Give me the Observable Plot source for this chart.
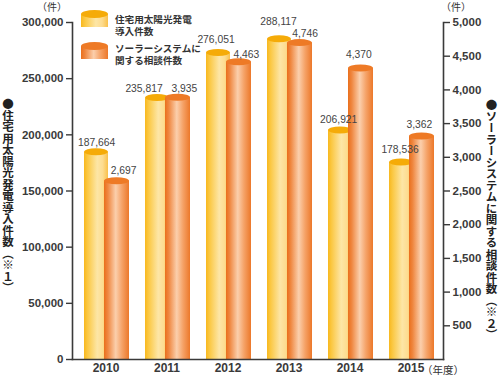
<!DOCTYPE html>
<html><head><meta charset="utf-8">
<script src="https://cdn.jsdelivr.net/npm/d3@7"></script>
<script src="https://cdn.jsdelivr.net/npm/@observablehq/plot@0.6"></script>
<style>
body{margin:0;background:#fff;}
#wrap{position:relative;width:500px;height:380px;font-family:"Noto Sans CJK JP","Liberation Sans",sans-serif;color:#333;}
#wrap > svg{position:absolute;left:0;top:0;}
.vt{position:absolute;writing-mode:vertical-rl;font-weight:bold;font-size:11.5px;line-height:11.5px;color:#222;font-family:"Noto Sans CJK JP",sans-serif;}
.lg{position:absolute;left:115px;font-size:9.6px;line-height:12px;font-weight:bold;color:#333;font-family:"Noto Sans CJK JP",sans-serif;white-space:pre;}
.unit{position:absolute;font-size:10px;line-height:12px;color:#333;font-family:"Noto Sans CJK JP",sans-serif;white-space:nowrap;}
</style></head>
<body><div id="wrap"></div>
<script>
// ---- data ----
const years = ["2010", "2011", "2012", "2013", "2014", "2015"];
const solarInstalls = [187664, 235817, 276051, 288117, 206921, 178536];   // left axis
const consultations = [2697, 3935, 4463, 4746, 4370, 3362];               // right axis
const leftTicks = [0, 50000, 100000, 150000, 200000, 250000, 300000];
const rightTicks = [500, 1000, 1500, 2000, 2500, 3000, 3500, 4000, 4500, 5000];
const leftMax = 300000;
const rightMax = 5000;
const seriesNames = ["住宅用太陽光発電\n導入件数", "ソーラーシステムに\n関する相談件数"];
const leftTitle = "●住宅用太陽光発電導入件数（※１）";
const rightTitle = "●ソーラーシステムに関する相談件数（※２）";
const unitLabel = "（件）";
const yearUnit = "（年度）";

// ---- layout (label nudges in pixels, relative to each year's band centre / bar top) ----
const installLabelDx = [-9.4, -23, -12, -10.4, -11.3, -11];
const installLabelGap = [2.5, 2.5, 6, 11, 4.5, 6];
const consultLabelDx = [17.6, 17.3, 18.4, 16.1, 8.8, 8.4];
const consultLabelGap = [4, 2, 1, 3, 6.5, 4.5];

const fmt = d3.format(",");
const RATIO = leftMax / rightMax;
const rows = years.map((year, i) => ({
  year,
  installs: solarInstalls[i],
  consults: consultations[i],
  consultsOnLeft: consultations[i] * RATIO
}));

const axisColor = "#3a3a3a";
const yellowBar = {insetLeft: 9, insetRight: 28};
const orangeBar = {insetLeft: 29, insetRight: 7};
const labelStyle = {lineAnchor: "bottom", fontSize: 10.3, fill: "#444"};

const chart = Plot.plot({
  width: 500, height: 380,
  marginLeft: 72, marginRight: 57, marginTop: 22, marginBottom: 21,
  style: {fontFamily: '"Liberation Sans", Arial, sans-serif', background: "transparent", color: "#333", overflow: "visible"},
  x: {type: "band", domain: years, padding: 0, label: null, axis: null},
  y: {domain: [0, leftMax], label: null, axis: null},
  marks: [
    Plot.barY(rows, {x: "year", y1: 0, y2: "installs", fill: "url(#gy)", ...yellowBar, insetTop: 3.5}),
    Plot.barY(rows, {x: "year", y1: "installs", y2: "installs", fill: "#f5ab08", ...yellowBar, insetBottom: -7, rx: 13, ry: 3.5}),
    Plot.barY(rows, {x: "year", y1: 0, y2: "consultsOnLeft", fill: "url(#go)", ...orangeBar, insetTop: 3.5}),
    Plot.barY(rows, {x: "year", y1: "consultsOnLeft", y2: "consultsOnLeft", fill: "#ee7a26", ...orangeBar, insetBottom: -7, rx: 13, ry: 3.5}),
    Plot.frame({anchor: "left", stroke: axisColor, strokeWidth: 1.6}),
    Plot.frame({anchor: "right", stroke: axisColor, strokeWidth: 1.6}),
    Plot.frame({anchor: "bottom", stroke: axisColor, strokeWidth: 1.6}),
    Plot.axisY(leftTicks, {anchor: "left", tickSize: 6, tickPadding: 3, tickFormat: fmt, fontSize: 11.5, fontWeight: "bold", strokeWidth: 1.4, color: axisColor, label: null}),
    Plot.axisY(rightTicks.map(v => v * RATIO), {anchor: "right", tickSize: 6, tickPadding: 3, tickFormat: v => fmt(Math.round(v / RATIO)), fontSize: 11.5, fontWeight: "bold", strokeWidth: 1.4, color: axisColor, label: null}),
    Plot.axisX({tickSize: 0, tickPadding: 4, fontSize: 12, fontWeight: "bold", color: axisColor, label: null}),
    ...rows.map((r, i) => Plot.text([r], {x: "year", y: "installs", text: d => fmt(d.installs), dx: installLabelDx[i], dy: -installLabelGap[i], ...labelStyle})),
    ...rows.map((r, i) => Plot.text([r], {x: "year", y: "consultsOnLeft", text: d => fmt(d.consults), dx: consultLabelDx[i], dy: -consultLabelGap[i], ...labelStyle}))
  ]
});

d3.select(chart).insert("defs", ":first-child").html(`
  <linearGradient id="gy" x1="0" x2="1" y1="0" y2="0">
    <stop offset="0" stop-color="#f8b81e"/>
    <stop offset="0.15" stop-color="#fbc843"/>
    <stop offset="0.55" stop-color="#fde6a6"/>
    <stop offset="0.78" stop-color="#fddc90"/>
    <stop offset="1" stop-color="#f9c04a"/>
  </linearGradient>
  <linearGradient id="go" x1="0" x2="1" y1="0" y2="0">
    <stop offset="0" stop-color="#ea6f1c"/>
    <stop offset="0.15" stop-color="#ef8740"/>
    <stop offset="0.47" stop-color="#fbcfac"/>
    <stop offset="0.72" stop-color="#f5a267"/>
    <stop offset="1" stop-color="#ec782a"/>
  </linearGradient>`);

const wrap = document.getElementById("wrap");
wrap.appendChild(chart);

function icon(top, grad, topColor) {
  const s = d3.create("svg").attr("width", 27).attr("height", 17)
    .style("position", "absolute").style("left", "81px").style("top", top + "px");
  s.append("rect").attr("x", 0).attr("y", 4).attr("width", 27).attr("height", 13).attr("fill", `url(#${grad})`);
  s.append("ellipse").attr("cx", 13.5).attr("cy", 4).attr("rx", 13.5).attr("ry", 4).attr("fill", topColor);
  wrap.appendChild(s.node());
}
icon(10, "gy", "#f5ab08");
icon(42, "go", "#ee7a26");

function addDiv(cls, text, styles) {
  const d = document.createElement("div");
  d.className = cls;
  d.textContent = text;
  Object.assign(d.style, styles);
  wrap.appendChild(d);
  return d;
}
addDiv("lg", seriesNames[0], {top: "12.5px"});
addDiv("lg", seriesNames[1], {top: "42px"});
addDiv("vt", leftTitle, {left: "1.5px", top: "98px"});
addDiv("vt", rightTitle, {left: "485px", top: "99px"});
addDiv("unit", unitLabel, {left: "37px", top: "1px"});
addDiv("unit", unitLabel, {left: "441px", top: "1px"});
addDiv("unit", yearUnit, {left: "422px", top: "364px", fontSize: "10.5px"});
</script>
</body></html>
